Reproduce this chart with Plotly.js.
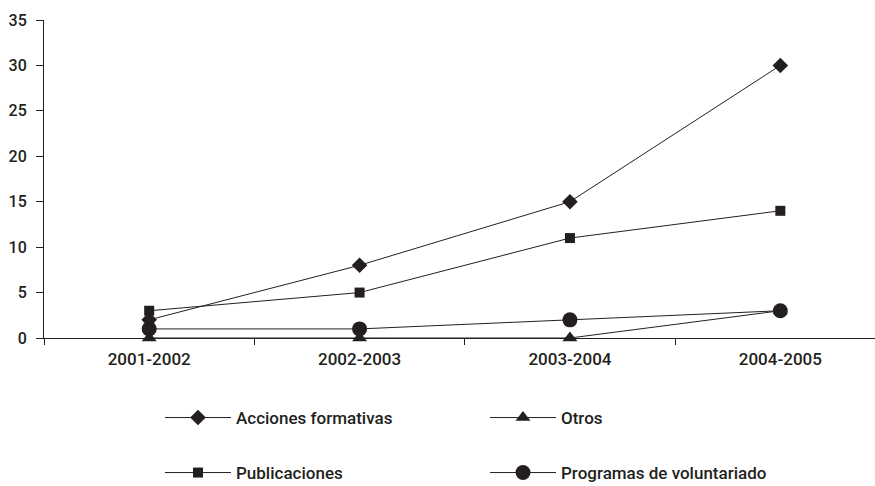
<!DOCTYPE html>
<html>
<head>
<meta charset="utf-8">
<script src="https://cdn.plot.ly/plotly-3.0.1.min.js"></script>
<style>html,body{margin:0;padding:0;background:#fff}#chart{width:875px;height:486px}</style>
</head>
<body>
<div id="chart"></div>
<script>
const categories = ["2001-2002", "2002-2003", "2003-2004", "2004-2005"];
const accionesFormativas = [2, 8, 15, 30];
const publicaciones = [3, 5, 11, 14];
const otros = [0, 0, 0, 3];
const programasVoluntariado = [1, 1, 2, 3];
const yTicks = [0, 5, 10, 15, 20, 25, 30, 35];

const FONT = "Roboto, 'DejaVu Sans', sans-serif";
const INK = "#231f20";

function series(name, y, symbol, size, legendId) {
  return {
    type: "scatter", mode: "lines+markers", name: name,
    x: categories, y: y, legend: legendId, cliponaxis: false,
    line: {color: INK, width: 1},
    marker: {symbol: symbol, size: size, color: INK}
  };
}

const data = [
  series("Programas de voluntariado", programasVoluntariado, "circle", 15, "legend2"),
  series("Otros", otros, "triangle-up", 13, "legend"),
  series("Publicaciones", publicaciones, "square", 10, "legend2"),
  series("Acciones formativas", accionesFormativas, "diamond", 12, "legend")
];

const legendCommon = {
  orientation: "h", xanchor: "left", yanchor: "middle",
  xref: "container", yref: "container",
  bgcolor: "rgba(0,0,0,0)", font: {family: FONT, size: 17, color: INK, weight: 500},
  entrywidth: 244, entrywidthmode: "pixels", itemwidth: 66,
  traceorder: "reversed", itemclick: false
};

const layout = {
  width: 875, height: 486,
  margin: {l: 44, r: 0, t: 20, b: 148, autoexpand: false},
  paper_bgcolor: "#fff", plot_bgcolor: "#fff",
  font: {family: FONT, size: 16, color: INK, weight: 500},
  showlegend: true,
  xaxis: {
    type: "category", range: [-0.5, 3.45],
    showgrid: false, zeroline: false,
    showline: true, linecolor: INK, linewidth: 1,
    ticks: "outside", tickson: "boundaries", ticklen: 6, tickcolor: INK,
    ticklabelstandoff: 6,
    tickfont: {family: FONT, size: 17, color: INK, weight: 500}
  },
  yaxis: {
    range: [0, 35], tickvals: yTicks,
    showgrid: false, zeroline: false,
    showline: true, linecolor: INK, linewidth: 1,
    ticks: "outside", ticklen: 7, tickcolor: INK,
    ticklabelstandoff: 6,
    tickfont: {family: FONT, size: 16, color: INK, weight: 500}
  },
  legend: Object.assign({x: 160 / 875, y: 1 - 418 / 486}, legendCommon),
  legend2: Object.assign({x: 160 / 875, y: 1 - 473 / 486}, legendCommon)
};

Plotly.newPlot("chart", data, layout, {displayModeBar: false, staticPlot: true});
</script>
</body>
</html>
